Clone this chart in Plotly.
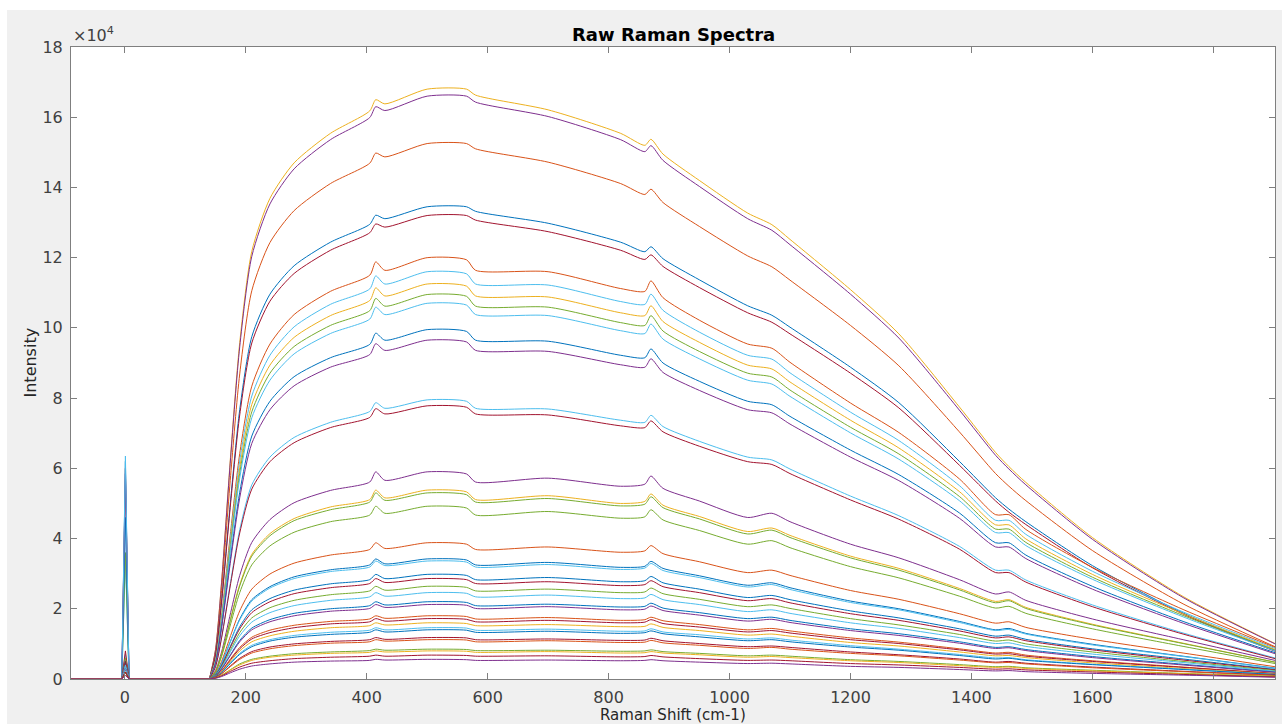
import plotly.graph_objects as go

# Raman shift positions (cm-1): laser line part and spectrum part
X_LASER = [-89, -5, 1, 7]
X_SPEC = [140, 150, 160, 175, 190, 210, 240, 280, 340, 405, 415, 430, 500, 565, 580,
          700, 820, 860, 870, 890, 950, 1030, 1070, 1100, 1200, 1280, 1380, 1440, 1462,
          1490, 1600, 1750, 1902]

# Intensities in units of 1e4
s01 = [0, 0.84, 2.77, 6.38, 9.58, 12.18, 13.69, 14.7, 15.54, 16.18, 16.5, 16.38, 16.8, 16.8, 16.63, 16.21, 15.54, 15.2, 15.37, 14.95, 14.2, 13.27, 12.94, 12.52, 11.09, 9.83, 7.75, 6.45, 6.05, 5.6, 4.03, 2.35, 1.01]
s02 = [0, 0.83, 2.74, 6.31, 9.46, 12.04, 13.53, 14.53, 15.36, 15.99, 16.3, 16.19, 16.6, 16.6, 16.43, 16.02, 15.36, 15.02, 15.19, 14.77, 14.03, 13.11, 12.78, 12.37, 10.96, 9.71, 7.66, 6.37, 5.98, 5.53, 3.98, 2.32, 1.0]
s03 = [0, 0.76, 2.52, 5.8, 8.69, 11.06, 12.43, 13.34, 14.11, 14.69, 14.98, 14.87, 15.25, 15.25, 15.1, 14.72, 14.11, 13.8, 13.95, 13.57, 12.89, 12.05, 11.74, 11.36, 10.07, 8.92, 7.04, 5.85, 5.49, 5.08, 3.66, 2.14, 0.92]
s04 = [0, 0.67, 2.22, 5.11, 7.67, 9.75, 10.96, 11.77, 12.44, 12.95, 13.21, 13.11, 13.45, 13.45, 13.32, 12.98, 12.44, 12.17, 12.31, 11.97, 11.37, 10.63, 10.36, 10.02, 8.88, 7.87, 6.2, 5.16, 4.84, 4.48, 3.23, 1.88, 0.81]
s05 = [0, 0.66, 2.18, 5.02, 7.52, 9.57, 10.76, 11.55, 12.21, 12.71, 12.96, 12.87, 13.2, 13.2, 13.07, 12.74, 12.21, 11.95, 12.08, 11.75, 11.15, 10.43, 10.16, 9.83, 8.71, 7.72, 6.09, 5.07, 4.75, 4.4, 3.17, 1.85, 0.79]
s06 = [0, 0.54, 1.8, 4.2, 6.42, 8.34, 9.54, 10.38, 11.04, 11.5, 11.88, 11.64, 12.0, 11.94, 11.64, 11.6, 11.12, 11.04, 11.34, 10.86, 10.22, 9.54, 9.42, 9.02, 7.86, 7.02, 5.7, 4.68, 4.68, 4.26, 3.18, 1.98, 0.9]
s07 = [0, 0.52, 1.74, 4.06, 6.21, 8.06, 9.22, 10.03, 10.67, 11.11, 11.48, 11.25, 11.6, 11.54, 11.25, 11.22, 10.75, 10.67, 10.96, 10.5, 9.88, 9.22, 9.11, 8.72, 7.6, 6.79, 5.51, 4.52, 4.52, 4.12, 3.07, 1.91, 0.87]
s08 = [0, 0.51, 1.69, 3.94, 6.02, 7.82, 8.94, 9.73, 10.35, 10.78, 11.14, 10.91, 11.25, 11.19, 10.91, 10.88, 10.43, 10.35, 10.63, 10.18, 9.59, 8.94, 8.83, 8.46, 7.37, 6.58, 5.34, 4.39, 4.39, 3.99, 2.98, 1.86, 0.84]
s09 = [0, 0.49, 1.64, 3.83, 5.86, 7.61, 8.71, 9.47, 10.07, 10.49, 10.84, 10.62, 10.95, 10.9, 10.62, 10.59, 10.15, 10.07, 10.35, 9.91, 9.33, 8.71, 8.6, 8.23, 7.17, 6.41, 5.2, 4.27, 4.27, 3.89, 2.9, 1.81, 0.82]
s10 = [0, 0.48, 1.61, 3.75, 5.72, 7.44, 8.51, 9.26, 9.84, 10.25, 10.59, 10.38, 10.7, 10.65, 10.38, 10.35, 9.92, 9.84, 10.11, 9.68, 9.12, 8.51, 8.4, 8.05, 7.01, 6.26, 5.08, 4.17, 4.17, 3.8, 2.84, 1.77, 0.8]
s11 = [0, 0.45, 1.49, 3.48, 5.32, 6.92, 7.91, 8.61, 9.15, 9.53, 9.85, 9.65, 9.95, 9.9, 9.65, 9.62, 9.22, 9.15, 9.4, 9.0, 8.48, 7.91, 7.81, 7.48, 6.52, 5.82, 4.73, 3.88, 3.88, 3.53, 2.64, 1.64, 0.75]
s12 = [0, 0.43, 1.45, 3.38, 5.16, 6.71, 7.67, 8.35, 8.88, 9.24, 9.55, 9.36, 9.65, 9.6, 9.36, 9.33, 8.95, 8.88, 9.12, 8.73, 8.22, 7.67, 7.58, 7.26, 6.32, 5.65, 4.58, 3.76, 3.76, 3.43, 2.56, 1.59, 0.72]
s13 = [0, 0.36, 1.19, 2.78, 4.25, 5.53, 6.32, 6.88, 7.31, 7.62, 7.87, 7.71, 7.95, 7.91, 7.71, 7.69, 7.37, 7.31, 7.51, 7.19, 6.77, 6.32, 6.24, 5.98, 5.21, 4.65, 3.78, 3.1, 3.1, 2.82, 2.11, 1.31, 0.6]
s14 = [0, 0.35, 1.17, 2.72, 4.16, 5.41, 6.19, 6.73, 7.16, 7.45, 7.7, 7.55, 7.78, 7.74, 7.55, 7.52, 7.21, 7.16, 7.35, 7.04, 6.63, 6.19, 6.11, 5.85, 5.1, 4.55, 3.7, 3.03, 3.03, 2.76, 2.06, 1.28, 0.58]
s15 = [0, 0.24, 0.77, 1.89, 2.95, 3.89, 4.54, 5.02, 5.37, 5.61, 5.9, 5.66, 5.9, 5.84, 5.61, 5.72, 5.49, 5.55, 5.78, 5.43, 5.07, 4.6, 4.72, 4.48, 3.84, 3.45, 2.83, 2.42, 2.48, 2.24, 1.71, 1.12, 0.53]
s16 = [0, 0.22, 0.7, 1.72, 2.69, 3.55, 4.14, 4.57, 4.9, 5.11, 5.38, 5.16, 5.38, 5.33, 5.11, 5.22, 5.0, 5.06, 5.27, 4.95, 4.63, 4.2, 4.3, 4.09, 3.5, 3.15, 2.58, 2.21, 2.26, 2.04, 1.56, 1.02, 0.48]
s17 = [0, 0.21, 0.69, 1.7, 2.65, 3.5, 4.08, 4.51, 4.82, 5.04, 5.3, 5.09, 5.3, 5.25, 5.04, 5.14, 4.93, 4.98, 5.19, 4.88, 4.56, 4.13, 4.24, 4.03, 3.45, 3.1, 2.54, 2.17, 2.23, 2.01, 1.54, 1.01, 0.48]
s18 = [0, 0.2, 0.64, 1.57, 2.46, 3.25, 3.79, 4.18, 4.48, 4.67, 4.92, 4.72, 4.92, 4.87, 4.67, 4.77, 4.58, 4.62, 4.82, 4.53, 4.23, 3.84, 3.94, 3.74, 3.2, 2.88, 2.36, 2.02, 2.07, 1.87, 1.43, 0.93, 0.44]
s19 = [0, 0.16, 0.5, 1.24, 1.94, 2.56, 2.99, 3.3, 3.53, 3.69, 3.88, 3.72, 3.88, 3.84, 3.69, 3.76, 3.61, 3.65, 3.8, 3.57, 3.34, 3.03, 3.1, 2.95, 2.52, 2.27, 1.86, 1.59, 1.63, 1.47, 1.13, 0.74, 0.35]
s20 = [0, 0.14, 0.44, 1.09, 1.71, 2.26, 2.63, 2.91, 3.11, 3.25, 3.42, 3.28, 3.42, 3.39, 3.25, 3.32, 3.18, 3.21, 3.35, 3.15, 2.94, 2.67, 2.74, 2.6, 2.22, 2.0, 1.64, 1.4, 1.44, 1.3, 0.99, 0.65, 0.31]
s21 = [0, 0.13, 0.44, 1.08, 1.68, 2.22, 2.59, 2.86, 3.06, 3.19, 3.36, 3.23, 3.36, 3.33, 3.19, 3.26, 3.12, 3.16, 3.29, 3.09, 2.89, 2.62, 2.69, 2.55, 2.18, 1.97, 1.61, 1.38, 1.41, 1.28, 0.97, 0.64, 0.3]
s22 = [0, 0.12, 0.39, 0.95, 1.49, 1.97, 2.29, 2.53, 2.71, 2.83, 2.98, 2.86, 2.98, 2.95, 2.83, 2.89, 2.77, 2.8, 2.92, 2.74, 2.56, 2.32, 2.38, 2.26, 1.94, 1.74, 1.43, 1.22, 1.25, 1.13, 0.86, 0.57, 0.27]
s23 = [0, 0.11, 0.37, 0.92, 1.43, 1.89, 2.2, 2.43, 2.6, 2.72, 2.86, 2.75, 2.86, 2.83, 2.72, 2.77, 2.66, 2.69, 2.8, 2.63, 2.46, 2.23, 2.29, 2.17, 1.86, 1.67, 1.37, 1.17, 1.2, 1.09, 0.83, 0.54, 0.26]
s24 = [0, 0.11, 0.34, 0.84, 1.32, 1.74, 2.03, 2.24, 2.4, 2.51, 2.64, 2.53, 2.64, 2.61, 2.51, 2.56, 2.46, 2.48, 2.59, 2.43, 2.27, 2.06, 2.11, 2.01, 1.72, 1.54, 1.27, 1.08, 1.11, 1.0, 0.77, 0.5, 0.24]
s25 = [0, 0.1, 0.32, 0.79, 1.23, 1.62, 1.89, 2.09, 2.24, 2.34, 2.46, 2.36, 2.46, 2.44, 2.34, 2.39, 2.29, 2.31, 2.41, 2.26, 2.12, 1.92, 1.97, 1.87, 1.6, 1.44, 1.18, 1.01, 1.03, 0.93, 0.71, 0.47, 0.22]
s26 = [0, 0.09, 0.29, 0.7, 1.1, 1.45, 1.69, 1.87, 2.0, 2.09, 2.2, 2.11, 2.2, 2.18, 2.09, 2.13, 2.05, 2.07, 2.16, 2.02, 1.89, 1.72, 1.76, 1.67, 1.43, 1.29, 1.06, 0.9, 0.92, 0.84, 0.64, 0.42, 0.2]
s27 = [0, 0.08, 0.28, 0.68, 1.06, 1.4, 1.63, 1.8, 1.93, 2.01, 2.12, 2.04, 2.12, 2.1, 2.01, 2.06, 1.97, 1.99, 2.08, 1.95, 1.82, 1.65, 1.7, 1.61, 1.38, 1.24, 1.02, 0.87, 0.89, 0.81, 0.61, 0.4, 0.19]
s28 = [0, 0.07, 0.23, 0.58, 0.9, 1.19, 1.39, 1.53, 1.64, 1.71, 1.8, 1.73, 1.8, 1.78, 1.71, 1.75, 1.67, 1.69, 1.76, 1.66, 1.55, 1.4, 1.44, 1.37, 1.17, 1.05, 0.86, 0.74, 0.76, 0.68, 0.52, 0.34, 0.16]
s29 = [0, 0.07, 0.22, 0.55, 0.86, 1.14, 1.32, 1.46, 1.57, 1.63, 1.72, 1.65, 1.72, 1.7, 1.63, 1.67, 1.6, 1.62, 1.69, 1.58, 1.48, 1.34, 1.38, 1.31, 1.12, 1.01, 0.83, 0.71, 0.72, 0.65, 0.5, 0.33, 0.15]
s30 = [0, 0.06, 0.21, 0.51, 0.8, 1.06, 1.23, 1.36, 1.46, 1.52, 1.6, 1.54, 1.6, 1.58, 1.52, 1.55, 1.49, 1.5, 1.57, 1.47, 1.38, 1.25, 1.28, 1.22, 1.04, 0.94, 0.77, 0.66, 0.67, 0.61, 0.46, 0.3, 0.14]
s31 = [0, 0.06, 0.19, 0.47, 0.73, 0.96, 1.12, 1.24, 1.33, 1.39, 1.46, 1.4, 1.46, 1.45, 1.39, 1.42, 1.36, 1.37, 1.43, 1.34, 1.26, 1.14, 1.17, 1.11, 0.95, 0.85, 0.7, 0.6, 0.61, 0.55, 0.42, 0.28, 0.13]
s32 = [0, 0.06, 0.18, 0.45, 0.7, 0.92, 1.08, 1.19, 1.27, 1.33, 1.4, 1.34, 1.4, 1.39, 1.33, 1.36, 1.3, 1.32, 1.37, 1.29, 1.2, 1.09, 1.12, 1.06, 0.91, 0.82, 0.67, 0.57, 0.59, 0.53, 0.41, 0.27, 0.13]
s33 = [0, 0.05, 0.15, 0.38, 0.59, 0.78, 0.91, 1.0, 1.07, 1.12, 1.18, 1.13, 1.18, 1.17, 1.12, 1.14, 1.1, 1.11, 1.16, 1.09, 1.01, 0.92, 0.94, 0.9, 0.77, 0.69, 0.57, 0.48, 0.5, 0.45, 0.34, 0.22, 0.11]
s34 = [0, 0.04, 0.15, 0.36, 0.56, 0.74, 0.86, 0.95, 1.02, 1.06, 1.12, 1.08, 1.12, 1.11, 1.06, 1.09, 1.04, 1.05, 1.1, 1.03, 0.96, 0.87, 0.9, 0.85, 0.73, 0.66, 0.54, 0.46, 0.47, 0.43, 0.32, 0.21, 0.1]
s35 = [0, 0.03, 0.11, 0.27, 0.43, 0.56, 0.65, 0.72, 0.77, 0.81, 0.85, 0.82, 0.85, 0.84, 0.81, 0.82, 0.79, 0.8, 0.83, 0.78, 0.73, 0.66, 0.68, 0.65, 0.55, 0.5, 0.41, 0.35, 0.36, 0.32, 0.25, 0.16, 0.08]
s36 = [0, 0.03, 0.1, 0.26, 0.4, 0.53, 0.62, 0.68, 0.73, 0.76, 0.8, 0.77, 0.8, 0.79, 0.76, 0.78, 0.74, 0.75, 0.78, 0.74, 0.69, 0.62, 0.64, 0.61, 0.52, 0.47, 0.38, 0.33, 0.34, 0.3, 0.23, 0.15, 0.07]
s37 = [0, 0.03, 0.09, 0.22, 0.34, 0.45, 0.52, 0.58, 0.62, 0.65, 0.68, 0.65, 0.68, 0.67, 0.65, 0.66, 0.63, 0.64, 0.67, 0.63, 0.58, 0.53, 0.54, 0.52, 0.44, 0.4, 0.33, 0.28, 0.29, 0.26, 0.2, 0.13, 0.06]
s38 = [0, 0.02, 0.07, 0.18, 0.28, 0.37, 0.43, 0.48, 0.51, 0.53, 0.56, 0.54, 0.56, 0.55, 0.53, 0.54, 0.52, 0.53, 0.55, 0.52, 0.48, 0.44, 0.45, 0.43, 0.36, 0.33, 0.27, 0.23, 0.24, 0.21, 0.16, 0.11, 0.05]

# laser line (Rayleigh) peak heights near 0 cm-1, one per spectrum (1e4)
LASER_PEAKS = [0.4, 0.5, 0.6, 6.2, 6.0, 0.5, 3.4, 0.4, 3.6, 0.7, 4.6, 5.85, 6.35, 0.8,
               0.5, 0.3, 0.4, 0.6, 0.3, 0.5, 0.4, 0.3, 0.5, 0.3, 0.4, 0.3, 0.3, 0.2,
               0.3, 0.2, 0.3, 0.2, 0.2, 0.2, 0.2, 0.1, 0.2, 0.1]

B, O, Y, P, G, C, R = "#0072BD", "#D95319", "#EDB120", "#7E2F8E", "#77AC30", "#4DBEEE", "#A2142F"
COLORS = [Y, P, O, B, R, O, C, Y, G, C, B, P, C, R, P, Y, G, G, O, B, C, B, R, G, C, B,
          P, O, R, Y, C, B, R, O, G, Y, R, P]

SPECTRA = [s01, s02, s03, s04, s05, s06, s07, s08, s09, s10, s11, s12, s13, s14, s15,
           s16, s17, s18, s19, s20, s21, s22, s23, s24, s25, s26, s27, s28, s29, s30,
           s31, s32, s33, s34, s35, s36, s37, s38]

Y_TICKS = [0, 2, 4, 6, 8, 10, 12, 14, 16, 18]
X_TICKS = [0, 200, 400, 600, 800, 1000, 1200, 1400, 1600, 1800]

fig = go.Figure()
for spec, peak, col in zip(SPECTRA, LASER_PEAKS, COLORS):
    assert len(spec) == len(X_SPEC), len(spec)
    # laser line segment (linear, narrow)
    fig.add_trace(go.Scatter(
        x=X_LASER + [140],
        y=[0, 0, peak, 0, 0],
        mode="lines",
        line=dict(color=col, width=1),
        showlegend=False,
        hoverinfo="skip",
    ))
    # spectrum segment (smoothed)
    fig.add_trace(go.Scatter(
        x=X_SPEC,
        y=spec,
        mode="lines",
        line=dict(color=col, width=1, shape="spline", smoothing=0.7),
        showlegend=False,
        hoverinfo="skip",
    ))

axis_common = dict(
    showline=True, linecolor="#7f7f7f", linewidth=1, mirror="ticks",
    ticks="inside", ticklen=6, tickcolor="#7f7f7f", tickwidth=1,
    showgrid=False, zeroline=False,
    tickfont=dict(family="DejaVu Sans", size=16, color="#404040"),
)

fig.update_layout(
    width=1282, height=724,
    margin=dict(l=71, r=7, t=47, b=45),
    paper_bgcolor="#f0f0f0",
    plot_bgcolor="#ffffff",
    font=dict(family="DejaVu Sans", color="#404040"),
    xaxis=dict(range=[-89, 1902], tickvals=X_TICKS, ticklabelstandoff=4, **axis_common),
    yaxis=dict(range=[0, 18], tickvals=Y_TICKS, ticklabelstandoff=4, **axis_common),
    shapes=[
        dict(type="rect", xref="paper", yref="paper", x0=-71 / 1204, x1=1 + 7 / 1204,
             y0=1 + 37 / 632, y1=1 + 47 / 632, fillcolor="#ffffff", line=dict(width=0),
             layer="below"),
        dict(type="rect", xref="paper", yref="paper", x0=-71 / 1204, x1=-64 / 1204,
             y0=-45 / 632, y1=1 + 47 / 632, fillcolor="#ffffff", line=dict(width=0),
             layer="below"),
    ],
    annotations=[
        dict(text="<b>Raw Raman Spectra</b>", xref="paper", yref="paper", x=0.5, y=1,
             xanchor="center", yanchor="middle", yshift=13, showarrow=False,
             font=dict(family="DejaVu Sans", size=18, color="#000000")),
        dict(text="×10<sup>4</sup>", xref="paper", yref="paper", x=0, y=1,
             xanchor="left", yanchor="bottom", yshift=0, showarrow=False,
             font=dict(family="DejaVu Sans", size=16, color="#404040")),
        dict(text="Raman Shift (cm-1)", xref="paper", yref="paper", x=0.5, y=0,
             xanchor="center", yanchor="top", yshift=-25, showarrow=False,
             font=dict(family="DejaVu Sans", size=15, color="#262626")),
        dict(text="Intensity", xref="paper", yref="paper", x=0, y=0.5, textangle=-90,
             xanchor="right", yanchor="middle", xshift=-30, showarrow=False,
             font=dict(family="DejaVu Sans", size=16, color="#262626")),
    ],
)

fig.write_html("out.html")
